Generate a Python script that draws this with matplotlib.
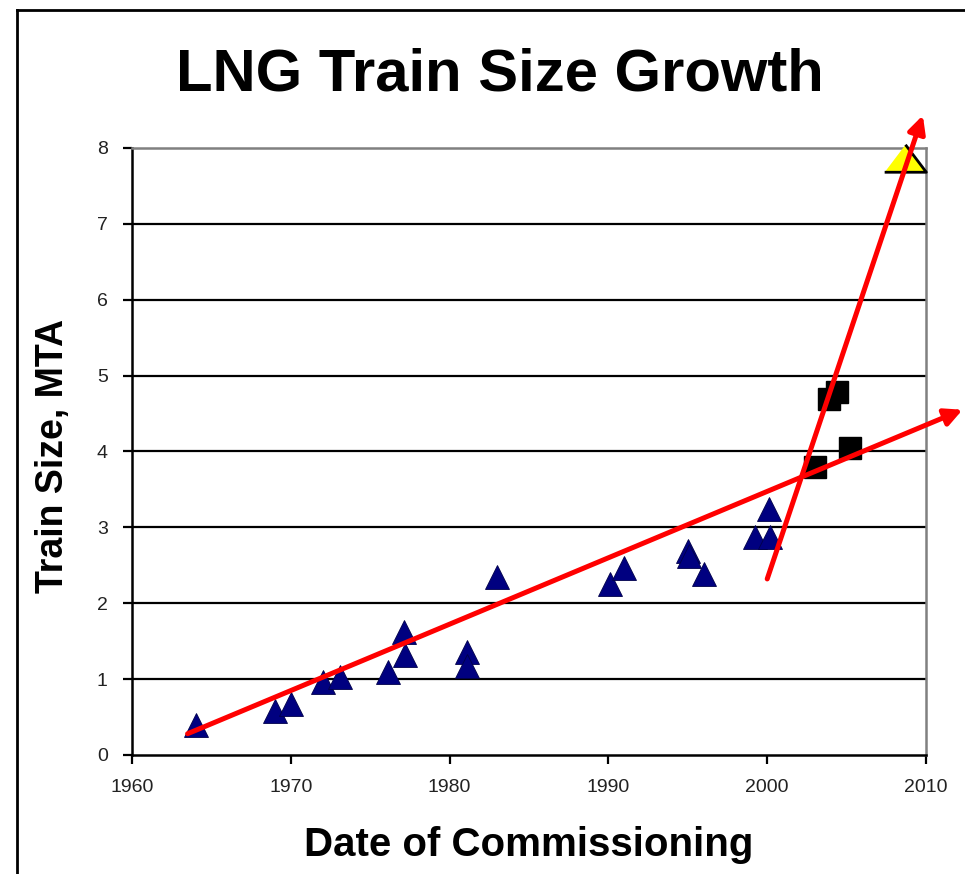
"""LNG train size growth: train size (MTA) vs date of commissioning."""

import matplotlib
matplotlib.use("Agg")
import matplotlib.pyplot as plt
from matplotlib.lines import Line2D

# Existing trains (blue triangles)
tri_year = [1964.0, 1969.0, 1970.0, 1972.0, 1973.1, 1976.1, 1977.1, 1977.2,
            1981.1, 1981.1, 1983.0, 1990.1, 1991.0, 1995.0, 1995.1, 1996.0,
            1999.2, 2000.2, 2000.1]
tri_size = [0.40, 0.58, 0.67, 0.96, 1.03, 1.09, 1.62, 1.32,
            1.36, 1.17, 2.35, 2.25, 2.46, 2.69, 2.62, 2.39,
            2.87, 2.87, 3.24]

# Recent trains (black squares)
sq_year = [2003.0, 2003.9, 2004.4, 2005.2]
sq_size = [3.80, 4.69, 4.78, 4.05]

# Planned train (yellow triangle)
new_year = [2008.7]
new_size = [7.87]

# Trend arrows: (start, end) in data units
trend_slow = [(1963.5, 0.28), (2012.3, 4.55)]
trend_fast = [(2000.0, 2.32), (2009.8, 8.43)]

x_ticks = [1960, 1970, 1980, 1990, 2000, 2010]
y_ticks = [0, 1, 2, 3, 4, 5, 6, 7, 8]

TICK_FONT = ["Liberation Sans Narrow", "Liberation Sans", "DejaVu Sans"]
BOLD_FONT = ["Liberation Sans", "DejaVu Sans"]

fig = plt.figure(figsize=(9.65, 8.74), dpi=100)
ax = fig.add_axes([0.1368, 0.1362, 0.8228, 0.6945])

ax.set_xlim(1960, 2010)
ax.set_ylim(0, 8)

# horizontal gridlines
for y in y_ticks[1:-1]:
    ax.axhline(y, color="black", lw=1.6, zorder=1)

ax.plot(tri_year, tri_size, linestyle="none", marker="^", markersize=17,
        color="#000080", markeredgecolor="#00004a", markeredgewidth=0.6,
        zorder=3)
ax.plot(sq_year, sq_size, linestyle="none", marker="s", markersize=16.5,
        color="black", zorder=3)
ax.plot(new_year, new_size, linestyle="none",
        marker=[(-1, -0.66), (1, -0.66), (0, 0.66)], markersize=30,
        markerfacecolor="#ffff00", markeredgecolor="black",
        markeredgewidth=2, clip_on=False, zorder=4)

for start, end in (trend_slow, trend_fast):
    ax.annotate("", xy=end, xytext=start, annotation_clip=False,
                arrowprops=dict(arrowstyle="-|>", color="#ff0000", lw=3.6,
                                mutation_scale=26, shrinkA=0, shrinkB=0),
                zorder=5)

ax.set_xticks(x_ticks)
ax.set_yticks(y_ticks)
ax.set_xticklabels([str(t) for t in x_ticks])
ax.set_yticklabels([str(t) for t in y_ticks])
ax.tick_params(direction="out", length=6.5, width=1.6, pad=11,
               labelsize=14, colors="black")
for lab in ax.get_xticklabels() + ax.get_yticklabels():
    lab.set_family(TICK_FONT)
    lab.set_color("#222222")

for side in ("left", "bottom"):
    ax.spines[side].set_color("black")
    ax.spines[side].set_linewidth(1.8)
for side in ("top", "right"):
    ax.spines[side].set_color("#808080")
    ax.spines[side].set_linewidth(1.8)

fig.text(0.518, 0.914, "LNG Train Size Growth", ha="center", va="center",
         fontsize=43, fontweight="bold", family=BOLD_FONT)
fig.text(0.055, 0.478, "Train Size, MTA", ha="center", va="center",
         rotation=90, fontsize=27, fontweight="bold", family=BOLD_FONT)
fig.text(0.548, 0.033, "Date of Commissioning", ha="center", va="center",
         fontsize=29, fontweight="bold", family=BOLD_FONT)

# outer frame (left and top edges)
fig.add_artist(Line2D([0.0176, 0.0176], [0.0, 0.9886], color="black", lw=2))
fig.add_artist(Line2D([0.0176, 1.0], [0.9886, 0.9886], color="black", lw=2))

fig.savefig("out.png", dpi=100)
